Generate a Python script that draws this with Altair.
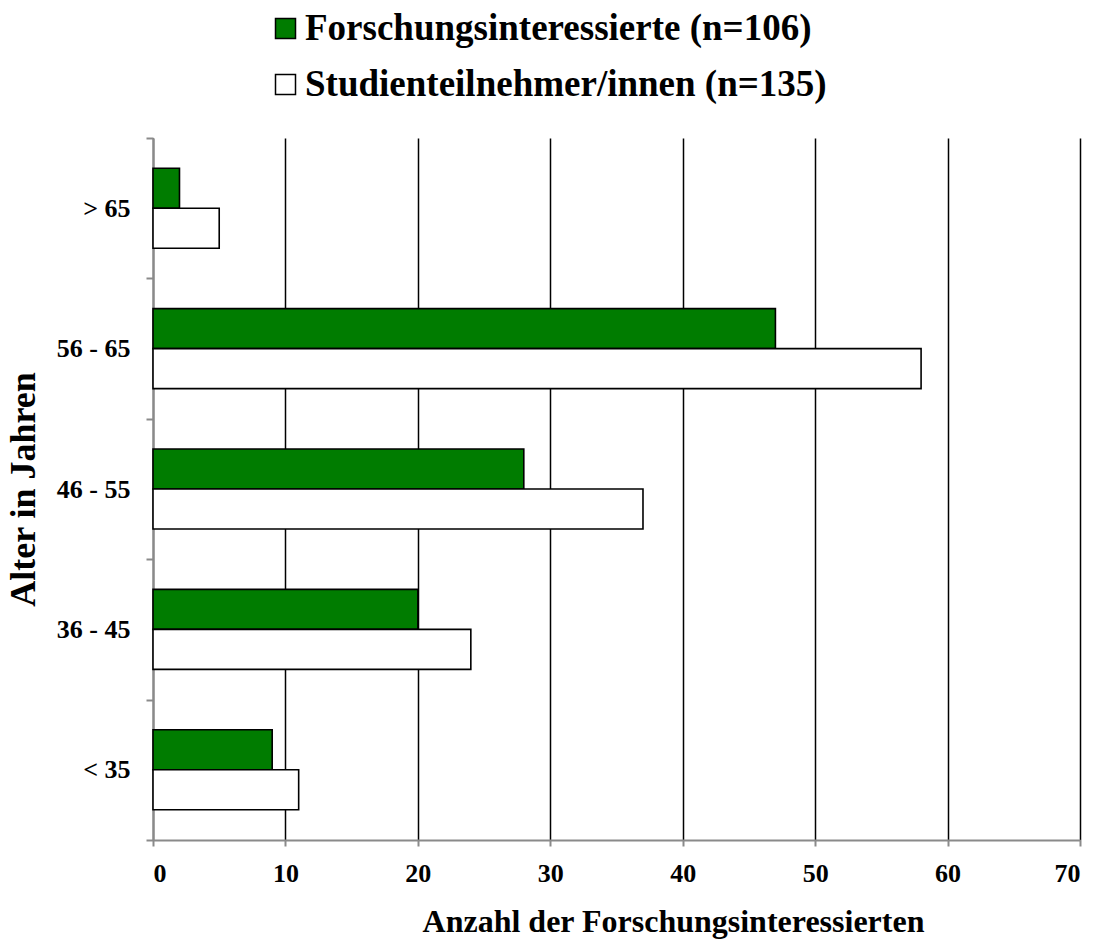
import altair as alt
import pandas as pd

# Age groups (top to bottom) and counts per group
age_groups = ["> 65", "56 - 65", "46 - 55", "36 - 45", "< 35"]
interessierte = [2, 47, 28, 20, 9]
teilnehmer = [5, 58, 37, 24, 11]

series_names = ["Forschungsinteressierte (n=106)", "Studienteilnehmer/innen (n=135)"]
series_colors = ["#007c00", "#ffffff"]
x_ticks = [0, 10, 20, 30, 40, 50, 60, 70]

rows = []
for group, a, b in zip(age_groups, interessierte, teilnehmer):
    rows.append({"Alter": group, "Gruppe": series_names[0], "Anzahl": a})
    rows.append({"Alter": group, "Gruppe": series_names[1], "Anzahl": b})
df = pd.DataFrame(rows)

FONT = "Liberation Serif"
AXIS_GRAY = "#8a8a8a"

chart = alt.Chart(df).mark_bar(stroke="black", strokeWidth=1.6).encode(
    x=alt.X(
        "Anzahl:Q",
        scale=alt.Scale(domain=[0, 70], nice=False),
        axis=alt.Axis(
            values=x_ticks,
            title="Anzahl der Forschungsinteressierten",
            grid=True,
            gridColor="black",
            gridWidth=1.5,
            gridOpacity=1,
            domainColor=AXIS_GRAY,
            domainWidth=2,
            tickColor=AXIS_GRAY,
            tickWidth=2,
            tickSize=6,
            labelFont=FONT,
            labelFontWeight="bold",
            labelFontSize=26,
            labelColor="black",
            labelPadding=14,
            titleFont=FONT,
            titleFontWeight="bold",
            titleFontSize=32,
            titleColor="black",
            titlePadding=20,
            titleX=520,
            titleAlign="center",
        ),
    ),
    y=alt.Y(
        "Alter:N",
        sort=age_groups,
        scale=alt.Scale(paddingInner=0, paddingOuter=0),
        axis=alt.Axis(
            title="Alter in Jahren",
            tickBand="extent",
            domainColor=AXIS_GRAY,
            domainWidth=2,
            tickColor=AXIS_GRAY,
            tickWidth=2,
            tickSize=7,
            labelFont=FONT,
            labelFontWeight="bold",
            labelFontSize=26,
            labelColor="black",
            labelPadding=16,
            titleFont=FONT,
            titleFontWeight="bold",
            titleFontSize=36,
            titleColor="black",
            titlePadding=14,
        ),
    ),
    yOffset=alt.YOffset(
        "Gruppe:N",
        sort=series_names,
        scale=alt.Scale(paddingInner=0, paddingOuter=0.755),
    ),
    color=alt.Color(
        "Gruppe:N",
        sort=series_names,
        scale=alt.Scale(domain=series_names, range=series_colors),
        legend=alt.Legend(
            title=None,
            orient="none",
            legendX=114,
            legendY=-128,
            direction="vertical",
            symbolType="square",
            symbolSize=400,
            symbolStrokeColor="black",
            symbolStrokeWidth=1.5,
            labelFont=FONT,
            labelFontWeight="bold",
            labelFontSize=37,
            labelColor="black",
            labelOffset=1,
            rowPadding=18,
            labelLimit=0,
        ),
    ),
).properties(
    width=927,
    height=702,
    autosize=alt.AutoSizeParams(type="none"),
    padding={"left": 153, "top": 138, "right": 25, "bottom": 99},
    background="white",
).configure_view(stroke=None)

chart.save("out.html", embed_options={"renderer": "svg", "actions": False})
